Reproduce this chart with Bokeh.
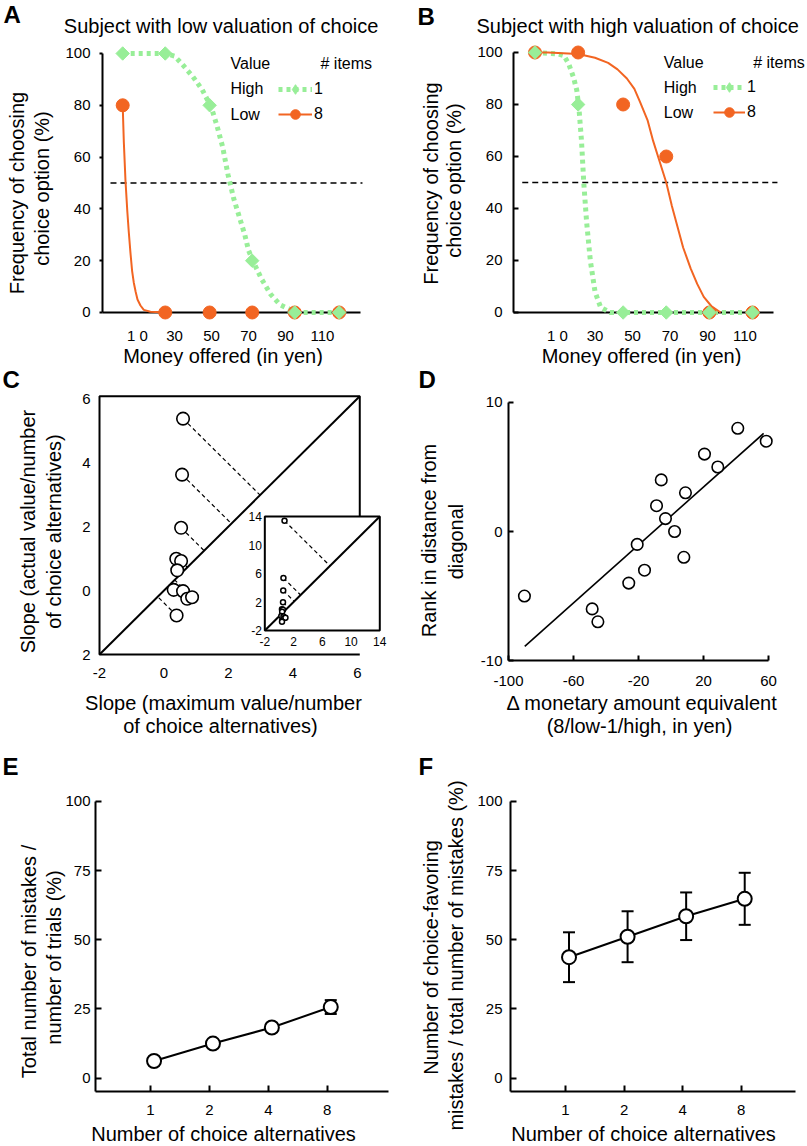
import math
from bokeh.plotting import figure
from bokeh.layouts import row, column
from bokeh.models import Range1d, FixedTicker, Label, Legend, LegendItem, ColumnDataSource
from bokeh.transform import dodge
from bokeh.core.properties import value
from bokeh.embed import file_html
from bokeh.resources import INLINE

FONT = "Liberation Sans"
GREEN = "#98EE98"
ORANGE = "#F26522"

# ---------------- data ----------------
# Panels A / B : money offered vs frequency of choosing the choice option
money_ticks = [10, 30, 50, 70, 90, 110]
money_labels = ["1 0", "30", "50", "70", "90", "110"]
pct_ticks = [0, 20, 40, 60, 80, 100]
threshold = 50

a_x = [2, 25, 49, 72, 95, 119]
a_high1 = [100, 100, 80, 20, 0, 0]
a_low8 = [80, 0, 0, 0, 0, 0]
a_fit_high1_x = [2, 25, 30, 34, 40, 45, 50, 53, 56, 59, 62, 65, 68, 70, 73, 77, 82, 87, 93, 98, 119]
a_fit_high1_y = [100, 100, 99, 96, 91, 86, 79, 72, 64, 53, 44, 37, 30, 24, 19, 13, 7, 3, 1, 0, 0]
a_fit_low8_x = [2, 2.6, 3.5, 4.5, 5.3, 6.2, 7.1, 8.0, 9.0, 10.0, 11.6, 13.4, 17, 25]
a_fit_low8_y = [80, 66, 51, 39, 31, 23, 16, 11.5, 8, 5, 2.7, 1, 0.3, 0]

b_x = [-2, 21, 45, 68, 91, 114]
b_high1 = [100, 80, 0, 0, 0, 0]
b_low8 = [100, 100, 80, 60, 0, 0]
b_fit_high1_x = [-2, 10, 13.4, 16, 18.5, 20.3, 21.5, 22.8, 24, 25.5, 27.5, 30, 33, 38, 114]
b_fit_high1_y = [100, 99.5, 98.8, 95.6, 90.5, 85.4, 78, 66, 50, 35, 20, 8, 2, 0, 0]
b_fit_low8_x = [-2, 5, 21, 30, 37, 42, 47, 51, 54, 58, 61, 64.5, 68, 71, 74, 77, 81, 84.5, 88, 92, 97]
b_fit_low8_y = [100, 100, 99.4, 98, 96, 93.5, 90, 86, 81, 74, 66, 58, 50, 41, 33, 25, 17, 11, 6, 2.5, 0]

# Panel C : slopes
c_max_x = [0.59, 0.56, 0.53, 0.38, 0.53, 0.41, 0.30, 0.59, 0.72, 0.87, 0.39]
c_actual_y = [5.37, 3.62, 1.96, 0.99, 0.92, 0.63, 0.02, -0.02, -0.26, -0.21, -0.78]
c_outlier_x = [0.74]
c_outlier_y = [13.4]
c_ticks = [-2, 0, 2, 4, 6]
c_xtick_labels = ["-2", "0", "2", "4", "6"]
c_ytick_labels = ["2", "0", "2", "4", "6"]
c_inset_ticks = [-2, 2, 6, 10, 14]

# Panel D : rank vs monetary difference
d_x = [-90.2, -48.5, -45.0, -26.0, -16.3, -20.8, -8.9, -6.0, -3.4, 2.2, 7.9, 8.9, 20.6, 28.8, 41.1, 58.6]
d_rank = [-5, -6, -7, -4, -3, -1, 2, 4, 1, 0, -2, 3, 6, 5, 8, 7]
d_fit_x = [-90, 57]
d_fit_y = [-8.9, 7.6]
d_xticks = [-100, -60, -20, 20, 60]
d_yticks = [-10, 0, 10]

# Panels E / F
n_alternatives = ["1", "2", "4", "8"]
e_mistakes = [6.2, 12.5, 18.3, 25.7]
e_sem = [1.0, 1.2, 1.5, 2.5]
f_choice_fav = [43.7, 51.1, 58.5, 64.8]
f_sem = [9.0, 9.2, 8.6, 9.4]
ef_yticks = [0, 25, 50, 75, 100]


# ---------------- helpers ----------------
def fig(w, h, xr, yr):
    p = figure(width=w, height=h, x_range=Range1d(*xr), y_range=Range1d(*yr),
               output_backend="svg", toolbar_location=None, tools="", title=None,
               min_border_left=0, min_border_right=0, min_border_top=0, min_border_bottom=0)
    p.outline_line_color = None
    p.xgrid.visible = False
    p.ygrid.visible = False
    return p


def style_axis(ax, at, ticks, labels=None, tick_in=0, tick_out=0, standoff=5,
               line=True, bounds=None, size="15px"):
    ax.fixed_location = at
    ax.level = "underlay"
    ax.ticker = FixedTicker(ticks=ticks)
    if labels is None:
        labels = [str(t) for t in ticks]
    ax.major_label_overrides = {t: l for t, l in zip(ticks, labels)}
    ax.minor_tick_line_color = None
    ax.major_tick_in = tick_in
    ax.major_tick_out = tick_out
    if tick_in == 0 and tick_out == 0:
        ax.major_tick_line_color = None
    else:
        ax.major_tick_line_color = "black"
        ax.major_tick_line_width = 2
    ax.axis_line_color = "black" if line else None
    ax.axis_line_width = 2
    ax.major_label_standoff = standoff
    ax.major_label_text_font = FONT
    ax.major_label_text_font_size = size
    ax.major_label_text_color = "black"
    if bounds is not None:
        ax.bounds = bounds


def text(p, x, y, s, size="20px", angle=0.0, align="center", bold=False):
    p.add_layout(Label(x=x, y=y, x_units="screen", y_units="screen", text=s,
                       angle=angle, text_align=align, text_baseline="middle",
                       text_font=FONT, text_font_size=size,
                       text_font_style="bold" if bold else "normal",
                       text_color="black"))


def choice_panel(p, xs, high, low, fhx, fhy, flx, fly, dash_x):
    p.line(dash_x, [threshold, threshold], line_color="black", line_dash="6 4", line_width=1.5)
    g_line = p.line(fhx, fhy, line_color=GREEN, line_width=5, line_dash="4 4")
    o_line = p.line(flx, fly, line_color=ORANGE, line_width=2)
    o_pts = p.scatter(xs, low, marker="circle", size=13, fill_color=ORANGE, line_color=ORANGE)
    p.scatter(xs, high, marker="square", angle=math.pi / 4, size=9.5,
              fill_color=GREEN, line_color=GREEN)
    # diamond-shaped sample used only for the legend key
    g_key = p.scatter(xs, high, marker="diamond", size=12, fill_color=GREEN,
                      line_color=GREEN, visible=False)
    return g_line, g_key, o_line, o_pts


def add_legend(p, rends, loc, gw):
    g_line, g_key, o_line, o_pts = rends
    leg = Legend(items=[LegendItem(label="1", renderers=[g_line, g_key]),
                        LegendItem(label="8", renderers=[o_line, o_pts])],
                 location=loc, orientation="vertical", glyph_width=gw, glyph_height=24,
                 label_height=24, spacing=1, padding=0, margin=0, label_standoff=2,
                 border_line_color=None, background_fill_alpha=0,
                 label_text_font=FONT, label_text_font_size="16px", label_text_color="black")
    p.add_layout(leg)


ROT = math.pi / 2

# ---------------- Panel A ----------------
pA = fig(404, 366, (-64.05, 154.32), (-20.85, 120.46))
style_axis(pA.yaxis[0], -8.92, pct_ticks, tick_out=3, standoff=9, bounds=(0, 100))
style_axis(pA.xaxis[0], 0, money_ticks, money_labels, standoff=15, bounds=(-8.92, 130.5))
rA = choice_panel(pA, a_x, a_high1, a_low8, a_fit_high1_x, a_fit_high1_y,
                  a_fit_low8_x, a_fit_low8_y, [-4.6, 131.6])
add_legend(pA, rA, (278, 240), 34)
text(pA, 3, 352, "A", size="24px", align="left", bold=True)
text(pA, 63.3, 341, "Subject with low valuation of choice", align="left")
text(pA, 16.7, 173.5, "Frequency of choosing", angle=ROT)
text(pA, 41.7, 178, "choice option (%)", angle=ROT)
text(pA, 222.5, 11, "Money offered (in yen)")
text(pA, 230, 303, "Value", size="16px", align="left")
text(pA, 320, 303, "# items", size="16px", align="left")
text(pA, 230, 277.7, "High", size="16px", align="left")
text(pA, 230, 252, "Low", size="16px", align="left")

# ---------------- Panel B ----------------
pB = fig(403, 366, (-71.6, 143.33), (-20.77, 120.0))
style_axis(pB.yaxis[0], -13.47, pct_ticks, tick_in=5, standoff=11, bounds=(0, 100))
style_axis(pB.xaxis[0], 0, money_ticks, money_labels, standoff=15, bounds=(-13.47, 125.4))
rB = choice_panel(pB, b_x, b_high1, b_low8, b_fit_high1_x, b_fit_high1_y,
                  b_fit_low8_x, b_fit_low8_y, [-8.8, 127.3])
add_legend(pB, rB, (309, 241.7), 32)
text(pB, 13, 350.5, "B", size="24px", align="left", bold=True)
text(pB, 72, 341, "Subject with high valuation of choice", align="left")
text(pB, 26, 183, "Frequency of choosing", angle=ROT)
text(pB, 49.3, 186, "choice option (%)", angle=ROT)
text(pB, 237, 11, "Money offered (in yen)")
text(pB, 259.3, 304, "Value", size="16px", align="left")
text(pB, 348.7, 304, "# items", size="16px", align="left")
text(pB, 259.3, 278.7, "High", size="16px", align="left")
text(pB, 259.3, 253.7, "Low", size="16px", align="left")

# ---------------- Panel C ----------------
C_LO, C_BOX = -2, 6.07
INSET_X = (3.126, 6.691)
INSET_Y = (-1.25, 2.3125)
I_LO, I_HI = c_inset_ticks[0], c_inset_ticks[-1]
pC = fig(404, 382, (-5.07, 7.457), (-4.9375, 7.0))
style_axis(pC.yaxis[0], C_LO, c_ticks, c_ytick_labels, standoff=9, line=False)
style_axis(pC.xaxis[0], C_LO, c_ticks, c_xtick_labels, standoff=13, line=False)
pC.line(x=[C_BOX, C_BOX, C_LO, C_LO, C_BOX], y=[INSET_Y[1], C_BOX, C_BOX, C_LO, C_LO],
        line_color="black", line_width=2)
pC.line(x=[C_LO, C_BOX], y=[C_LO, C_BOX], line_color="black", line_width=2)
c_feet = [(x + y) / 2 for x, y in zip(c_max_x, c_actual_y)]
pC.segment(x0=c_max_x, y0=c_actual_y, x1=c_feet, y1=c_feet, line_color="black",
           line_dash="4 3", line_width=1.2)
pC.scatter(c_max_x, c_actual_y, marker="circle", size=12.5, fill_color="white",
           line_color="black", line_width=1.6)
sub = pC.subplot(x_source=Range1d(I_LO, I_HI), y_source=Range1d(I_LO, I_HI),
                 x_target=Range1d(*INSET_X), y_target=Range1d(*INSET_Y))
sub.quad(left=[I_LO], right=[I_HI], bottom=[I_LO], top=[I_HI], fill_color="white",
         line_color="black", line_width=2)
sub.line(x=[I_LO, I_HI], y=[I_LO, I_HI], line_color="black", line_width=2)
ci_x = c_max_x + c_outlier_x
ci_y = c_actual_y + c_outlier_y
ci_feet = [(x + y) / 2 for x, y in zip(ci_x, ci_y)]
sub.segment(x0=ci_x, y0=ci_y, x1=ci_feet, y1=ci_feet, line_color="black",
            line_dash="4 3", line_width=1.2)
sub.scatter(ci_x, ci_y, marker="circle", size=5, fill_color="white", line_color="black",
            line_width=1.5)
ci_lab = [str(t) for t in c_inset_ticks]
sub.text(x=c_inset_ticks, y=[I_LO] * len(c_inset_ticks), text=ci_lab, text_align="center",
         text_baseline="top", y_offset=6, text_font=value(FONT), text_font_size="12px",
         text_color="black")
sub.text(x=[I_LO] * len(c_inset_ticks), y=c_inset_ticks, text=ci_lab, text_align="right",
         text_baseline="middle", x_offset=-3, text_font=value(FONT), text_font_size="12px",
         text_color="black")
text(pC, 2, 369, "C", size="24px", align="left", bold=True)
text(pC, 27, 217, "Slope (actual value/number", angle=ROT)
text(pC, 53.3, 217, "of choice alternatives)", angle=ROT)
text(pC, 223, 46, "Slope (maximum value/number")
text(pC, 220, 23, "of choice alternatives)")

# ---------------- Panel D ----------------
pD = fig(403, 382, (-164, 84), (-16.82, 12.79))
style_axis(pD.yaxis[0], -100, d_yticks, tick_in=5, standoff=6, bounds=(-10, 10))
style_axis(pD.xaxis[0], -10, d_xticks, tick_in=5, standoff=15, bounds=(-100, 60))
pD.line(d_fit_x, d_fit_y, line_color="black", line_width=1.6)
pD.scatter(d_x, d_rank, marker="circle", size=11.5, fill_color="white", line_color="black",
           line_width=1.6)
text(pD, 14, 369, "D", size="24px", align="left", bold=True)
text(pD, 24.3, 208, "Rank in distance from", angle=ROT)
text(pD, 51, 207, "diagonal", angle=ROT)
text(pD, 237.7, 46, "\u0394 monetary amount equivalent")
text(pD, 235, 23, "(8/low-1/high, in yen)")


# ---------------- Panels E / F ----------------
def ef_panel(p, vals, sem):
    src = ColumnDataSource(dict(x=list(range(len(n_alternatives))), y=vals,
                                lo=[v - s for v, s in zip(vals, sem)],
                                hi=[v + s for v, s in zip(vals, sem)]))
    xs = dodge("x", 0.06)
    p.segment(x0=xs, y0="lo", x1=xs, y1="hi", source=src, line_color="black", line_width=2)
    p.scatter(x=xs, y="hi", marker="dash", size=12, line_width=2, line_color="black", source=src)
    p.scatter(x=xs, y="lo", marker="dash", size=12, line_width=2, line_color="black", source=src)
    p.line(x=xs, y="y", source=src, line_color="black", line_width=2)
    p.scatter(x=xs, y="y", marker="circle", size=14, fill_color="white", line_color="black",
              line_width=2, source=src)


idx = list(range(len(n_alternatives)))
EF_Y = (-24.68, 119.1)
EF_BASE = -4.76
pE = fig(404, 398, (-2.547, 4.312), EF_Y)
style_axis(pE.yaxis[0], -0.934, ef_yticks, tick_in=6, standoff=5, bounds=(EF_BASE, 100))
style_axis(pE.xaxis[0], EF_BASE, idx, n_alternatives, tick_in=6, standoff=14,
           bounds=(-0.934, 4.04))
ef_panel(pE, e_mistakes, e_sem)
text(pE, 2, 380, "E", size="24px", align="left", bold=True)
text(pE, 28.3, 185, "Total number of mistakes /", angle=ROT)
text(pE, 53.3, 189, "number of trials (%)", angle=ROT)
text(pE, 223, 13, "Number of choice alternatives")

pF = fig(403, 398, (-2.749, 4.132), EF_Y)
style_axis(pF.yaxis[0], -0.939, ef_yticks, tick_in=6, standoff=8, bounds=(EF_BASE, 100))
style_axis(pF.xaxis[0], EF_BASE, idx, n_alternatives, tick_in=6, standoff=14,
           bounds=(-0.939, 3.927))
ef_panel(pF, f_choice_fav, f_sem)
text(pF, 14, 380, "F", size="24px", align="left", bold=True)
text(pF, 26, 189, "Number of choice-favoring", angle=ROT)
text(pF, 51, 191, "mistakes / total number of mistakes (%)", angle=ROT)
text(pF, 239, 13, "Number of choice alternatives")

layout = column(row(pA, pB), row(pC, pD), row(pE, pF))
open("out.html", "w").write(file_html(layout, INLINE))
